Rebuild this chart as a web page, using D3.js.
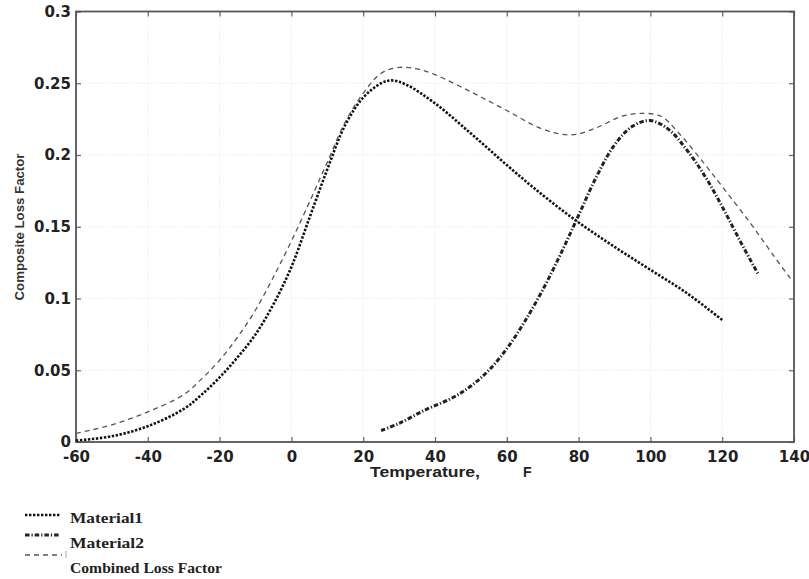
<!DOCTYPE html>
<html>
<head>
<meta charset="utf-8">
<script src="https://cdnjs.cloudflare.com/ajax/libs/d3/7.8.5/d3.min.js"></script>
<style>
  body { margin: 0; background: #fff; }
  svg { display: block; }
</style>
</head>
<body>
<svg width="809" height="579"></svg>
<script>
// values (temperature in F, composite loss factor)
const mat1Temp = [-60, -50, -40, -30, -25, -20, -15, -10, -5, 0, 5, 10, 15, 20, 25, 28, 32, 40, 50, 60, 70, 80, 90, 100, 110, 120];
const mat1Loss = [0.001, 0.004, 0.011, 0.023, 0.033, 0.045, 0.059, 0.075, 0.096, 0.122, 0.156, 0.190, 0.221, 0.240, 0.250, 0.252, 0.249, 0.236, 0.215, 0.193, 0.172, 0.153, 0.136, 0.120, 0.104, 0.085];

const mat2Temp = [25, 30, 37, 45, 50, 55, 60, 65, 70, 75, 80, 85, 90, 95, 100, 105, 110, 115, 120, 125, 130];
const mat2Loss = [0.008, 0.013, 0.022, 0.031, 0.039, 0.050, 0.065, 0.084, 0.106, 0.131, 0.158, 0.185, 0.207, 0.220, 0.224, 0.218, 0.204, 0.186, 0.164, 0.140, 0.117];

const combTemp = [-60, -50, -40, -30, -25, -20, -15, -10, -5, 0, 5, 10, 15, 20, 25, 30, 35, 40, 50, 60, 70, 78, 85, 92, 98, 103, 108, 115, 120, 128, 134, 139];
const combLoss = [0.006, 0.012, 0.021, 0.033, 0.044, 0.057, 0.073, 0.092, 0.115, 0.140, 0.167, 0.195, 0.223, 0.243, 0.257, 0.261, 0.260, 0.256, 0.244, 0.231, 0.218, 0.214, 0.219, 0.227, 0.229, 0.227, 0.215, 0.194, 0.178, 0.152, 0.131, 0.114];

const xTicks = [-60, -40, -20, 0, 20, 40, 60, 80, 100, 120, 140];
const xTickLabels = ['-60', '-40', '-20', '0', '20', '40', '60', '80', '100', '120', '140'];
const yTicks = [0, 0.05, 0.1, 0.15, 0.2, 0.25, 0.3];
const yTickLabels = ['0', '0.05', '0.1', '0.15', '0.2', '0.25', '0.3'];

const seriesNames = ['Material1', 'Material2', 'Combined Loss Factor'];

var svg = d3.select('svg');
var plotL = 76, plotR = 794, plotT = 11.5, plotB = 442;

var x = d3.scaleLinear().domain([-60, 140]).range([plotL, plotR]);
var y = d3.scaleLinear().domain([0, 0.3]).range([plotB, plotT]);

// faint grid
var grid = svg.append('g').attr('class', 'grid');
grid.selectAll('.vg')
  .data(xTicks.slice(1, -1))
  .enter().append('line')
  .attr('x1', d => x(d)).attr('x2', d => x(d))
  .attr('y1', plotT).attr('y2', plotB);
grid.selectAll('.hg')
  .data(yTicks.slice(1, -1))
  .enter().append('line')
  .attr('x1', plotL).attr('x2', plotR)
  .attr('y1', d => y(d)).attr('y2', d => y(d));
grid.selectAll('line')
  .attr('stroke', '#e3e3e3')
  .attr('stroke-width', 1)
  .attr('stroke-dasharray', '1,2');

// axes, ticks pointing inwards
var axisStyle = g => {
  g.select('.domain').remove();
  g.selectAll('.tick line').attr('stroke', '#666').attr('stroke-width', 1.2);
  g.selectAll('.tick text')
    .attr('fill', '#222')
    .style('font-family', '"DejaVu Sans", sans-serif')
    .style('font-weight', 'bold')
    .style('font-size', '15px');
};

svg.append('g')
  .attr('transform', `translate(0, ${plotB})`)
  .call(d3.axisBottom(x).tickValues(xTicks).tickSizeInner(-5).tickSizeOuter(0).tickPadding(9)
    .tickFormat((d, i) => xTickLabels[i]))
  .call(axisStyle);

svg.append('g')
  .attr('transform', `translate(0, ${plotT})`)
  .call(d3.axisTop(x).tickValues(xTicks).tickSizeInner(-5).tickSizeOuter(0).tickFormat(''))
  .call(axisStyle);

svg.append('g')
  .attr('transform', `translate(${plotL}, 0)`)
  .call(d3.axisLeft(y).tickValues(yTicks).tickSizeInner(-5).tickSizeOuter(0).tickPadding(5)
    .tickFormat((d, i) => yTickLabels[i]))
  .call(axisStyle);

svg.append('g')
  .attr('transform', `translate(${plotR}, 0)`)
  .call(d3.axisRight(y).tickValues(yTicks).tickSizeInner(-5).tickSizeOuter(0).tickFormat(''))
  .call(axisStyle);

// frame
svg.append('rect')
  .attr('x', plotL).attr('y', plotT)
  .attr('width', plotR - plotL).attr('height', plotB - plotT)
  .attr('fill', 'none')
  .attr('stroke', '#555')
  .attr('stroke-width', 1.8);

// curves
var line = d3.line()
  .x(d => x(d[0]))
  .y(d => y(d[1]))
  .curve(d3.curveCatmullRom.alpha(0.5));

var styles = [
  {stroke: '#111', width: 2.6, dash: '2.4,1.6'},
  {stroke: '#222', width: 3, dash: '4.5,2,1.2,2'},
  {stroke: '#555', width: 1.3, dash: '5,4'}
];

var series = [
  d3.zip(mat1Temp, mat1Loss),
  d3.zip(mat2Temp, mat2Loss),
  d3.zip(combTemp, combLoss)
];

svg.selectAll('.curve')
  .data(series)
  .enter()
  .append('path')
  .attr('class', 'curve')
  .attr('d', line)
  .attr('fill', 'none')
  .attr('stroke', (d, i) => styles[i].stroke)
  .attr('stroke-width', (d, i) => styles[i].width)
  .attr('stroke-dasharray', (d, i) => styles[i].dash);

// axis titles
svg.append('text')
  .attr('transform', 'translate(24, 227) rotate(-90)')
  .attr('text-anchor', 'middle')
  .attr('textLength', 147)
  .attr('lengthAdjust', 'spacingAndGlyphs')
  .attr('fill', '#333')
  .style('font-family', '"Liberation Sans", Arial, sans-serif')
  .style('font-weight', 'bold')
  .style('font-size', '13px')
  .text('Composite Loss Factor');

svg.append('text')
  .attr('x', 370).attr('y', 477)
  .attr('textLength', 110)
  .attr('lengthAdjust', 'spacingAndGlyphs')
  .attr('fill', '#222')
  .style('font-family', '"Liberation Sans", Arial, sans-serif')
  .style('font-weight', 'bold')
  .style('font-size', '14px')
  .text('Temperature,');

svg.append('text')
  .attr('x', 523).attr('y', 477)
  .attr('fill', '#222')
  .style('font-family', '"Liberation Sans", Arial, sans-serif')
  .style('font-weight', 'bold')
  .style('font-size', '14px')
  .text('F');

// legend below the plot
var legendY = [515, 535, 555];
var textY = [523, 548, 573];
var textLen = [73, 74, 152];

var legend = svg.append('g');
legend.selectAll('line')
  .data(seriesNames)
  .enter()
  .append('line')
  .attr('x1', 25).attr('x2', (d, i) => i == 2 ? 62 : 60)
  .attr('y1', (d, i) => legendY[i]).attr('y2', (d, i) => legendY[i])
  .attr('stroke', (d, i) => styles[i].stroke)
  .attr('stroke-width', (d, i) => styles[i].width)
  .attr('stroke-dasharray', (d, i) => styles[i].dash);

legend.append('line')
  .attr('x1', 66).attr('x2', 66)
  .attr('y1', 551).attr('y2', 558)
  .attr('stroke', '#999')
  .attr('stroke-width', 0.8);

legend.selectAll('text')
  .data(seriesNames)
  .enter()
  .append('text')
  .attr('x', 70)
  .attr('y', (d, i) => textY[i])
  .attr('textLength', (d, i) => textLen[i])
  .attr('lengthAdjust', 'spacingAndGlyphs')
  .attr('fill', '#222')
  .style('font-family', '"Liberation Serif", "Times New Roman", serif')
  .style('font-weight', 'bold')
  .style('font-size', '15px')
  .text(d => d);
</script>
</body>
</html>
